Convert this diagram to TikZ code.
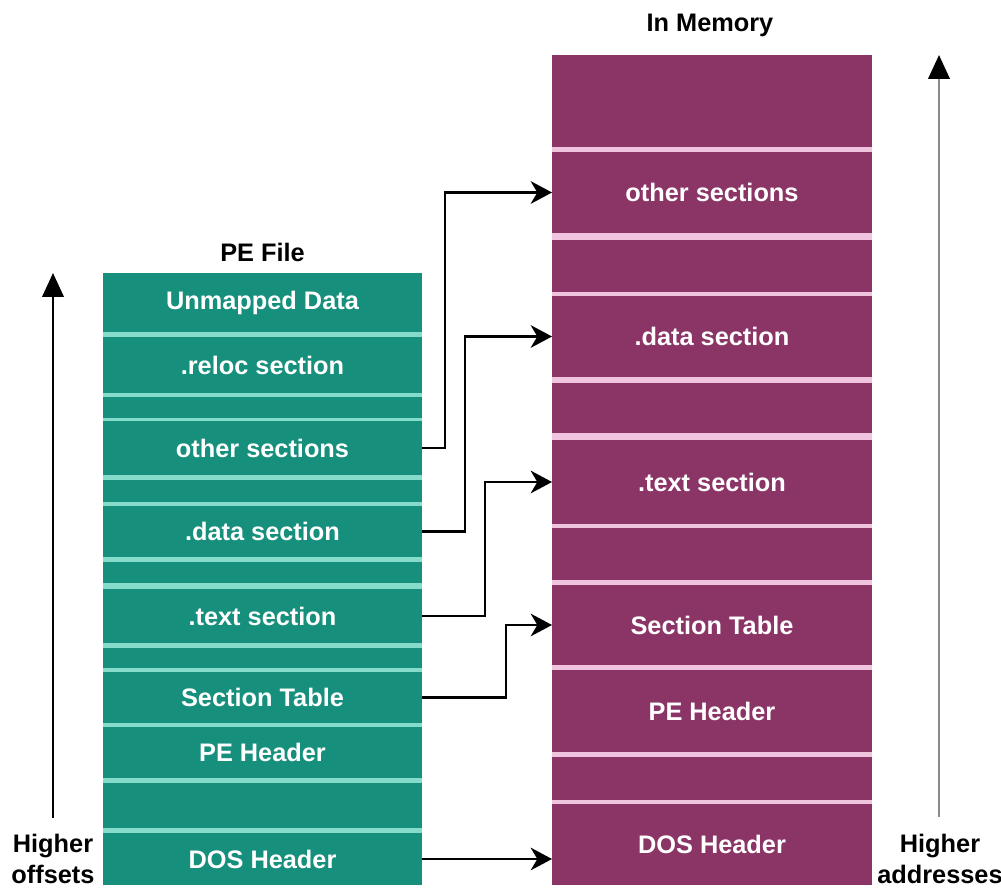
\documentclass[tikz,border=0pt]{standalone}
\usepackage{fontspec}
\setmainfont{Liberation Sans}
\usetikzlibrary{arrows.meta}
\definecolor{peteal}{HTML}{16907C}
\definecolor{pelight}{HTML}{86DCCB}
\definecolor{memplum}{HTML}{8B3567}
\definecolor{mempink}{HTML}{F0C4DE}
\definecolor{axisgray}{HTML}{8A8A8A}
\tikzset{
  fsec/.style={fill=peteal, text=white, minimum width=239.25pt, inner sep=0pt, outer sep=0pt,
    font=\bfseries\fontsize{19}{22}\selectfont},
  msec/.style={fsec, fill=memplum, minimum width=240pt},
  link/.style={line width=1.6pt, -{Stealth[length=16pt,width=17pt,inset=5pt]}},
  axis/.style={line width=2.2pt, -{Triangle[length=18pt,width=16pt,color=black]}},
  lbl/.style={font=\bfseries\fontsize{19}{23.5}\selectfont, align=center, inner sep=0pt}
}
\begin{document}
\begin{tikzpicture}[x=0.75pt,y=-0.75pt]
  \useasboundingbox (0,0) rectangle (1001,888);
  % PE file
  \node[lbl, anchor=base] (peTitle) at (262.5,262) {PE File};
  \fill[pelight] (103,273) rectangle (422,885);
  \foreach \n/\t/\b/\txt in {Unmapped/273/332/Unmapped Data, Reloc/337/393/.reloc section,
      GapA/397/418/, Other/421/475/other sections, GapB/480/502/, Data/506/557/.data section,
      GapC/562/583/, Text/589/643/.text section, GapD/648/668/, Table/672/723/Section Table,
      Pe/727/778/PE Header, GapE/783/828/, Dos/833/885/DOS Header}
    {\node[fsec, minimum height={(\b-\t)*0.75pt}] (f\n) at (262.5,{(\t+\b)/2}) {\txt};}
  % in memory
  \node[lbl, anchor=base] (memTitle) at (710,32) {In Memory};
  \fill[mempink] (552,55) rectangle (872,885);
  \foreach \n/\t/\b/\txt in {GapA/55/147/, Other/152/233/other sections, GapB/240/292/,
      Data/296/377/.data section, GapC/383/433/, Text/440/524/.text section, GapD/528/580/,
      Table/585/665/Section Table, Pe/670/752/PE Header, GapE/757/800/, Dos/804/885/DOS Header}
    {\node[msec, minimum height={(\b-\t)*0.75pt}] (m\n) at (712,{(\t+\b)/2}) {\txt};}
  % mapping
  \draw[link] (fOther.east) -- ++(23,0) |- (mOther.west);
  \draw[link] (fData.east) -- ++(43,0) |- (mData.west);
  \draw[link] (fText.east) -- ++(63,0) |- (mText.west);
  \draw[link] (fTable.east) -- ++(84,0) |- (mTable.west);
  \draw[link] (fDos.east) -- (fDos.east -| mDos.west);
  % direction arrows
  \node[lbl] (offLbl) at (53,859) {Higher\\offsets};
  \coordinate (offTop) at (53,273);
  \draw[axis] (offLbl.north |- 0,818) -- (offTop);
  \node[lbl] (addrLbl) at (940,859) {Higher\\addresses};
  \coordinate (addrTop) at (939,55);
  \draw[axis, draw=axisgray] (addrTop |- 0,817) -- (addrTop);
\end{tikzpicture}
\end{document}
